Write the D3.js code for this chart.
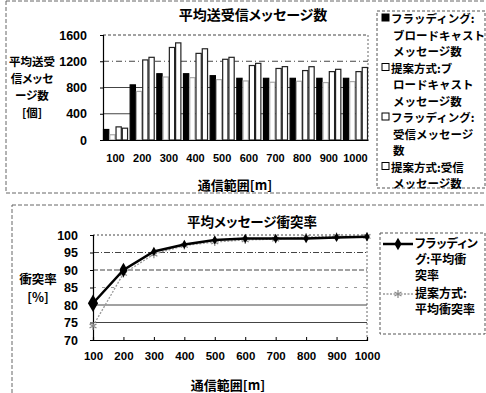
<!DOCTYPE html>
<html><head><meta charset="utf-8">
<script src="https://cdn.jsdelivr.net/npm/d3@7"></script>
<style>
body{margin:0;background:#fff;}
svg{display:block;}
.jp{font-family:"Noto Sans CJK JP","Noto Sans",sans-serif;font-weight:700;}
.palt{font-feature-settings:"palt";}
.num{font-family:"Liberation Sans",Arial,sans-serif;font-weight:700;}
</style></head>
<body>
<script>
// ---- data ----
const categories = ["100","200","300","400","500","600","700","800","900","1000"];
const floodBroadcast = [160, 840, 1010, 1010, 980, 940, 940, 940, 940, 940];
const propBroadcast  = [80, 740, 960, 950, 920, 900, 880, 895, 875, 890];
const floodReceive   = [200, 1220, 1410, 1320, 1230, 1135, 1090, 1058, 1042, 1042];
const propReceive    = [180, 1260, 1480, 1390, 1260, 1168, 1118, 1117, 1077, 1105];
const barTicks = [0, 400, 800, 1200, 1600];
const barSeriesNames = [
  ["フラッディング:","ブロードキャスト","メッセージ数"],
  ["提案方式:ブ","ロードキャスト","メッセージ数"],
  ["フラッディング:","受信メッセージ","数"],
  ["提案方式:受信","メッセージ数"]
];
const barYTitle = ["平均送受","信メッセ","ージ数","[個]"];
const floodCollision = [80.5, 90, 95.3, 97.3, 98.6, 99, 99, 99, 99.3, 99.5];
const propCollision  = [74, 89, 94.5, 97, 98, 98.6, 98.8, 99.4, 99.6, 99.6];
const lineTicks = [70, 75, 80, 85, 90, 95, 100];
const lineSeriesNames = [["フラッディン","グ:平均衝","突率"],["提案方式:","平均衝突率"]];
const lineYTitle = ["衝突率","[%]"];

const W = 486, H = 393;
const svg = d3.select("body").append("svg").attr("width", W).attr("height", H);

// wrapped multi-line title block centred at (cx, cy)
function blockTitle(g, lines, cx, cy, fs, step){
  const y0 = cy - (lines.length*step)/2 + step*0.78;
  lines.forEach((t,j)=>{
    g.append("text").attr("class","jp palt").attr("font-size",fs).attr("text-anchor","middle")
      .attr("x",cx).attr("y",y0+j*step).text(t);
  });
}

// ================= TOP CHART =================
const topG = svg.append("g");
topG.append("rect").attr("x",6).attr("y",1).attr("width",500).attr("height",192)
  .attr("fill","none").attr("stroke","#666").attr("stroke-dasharray","4,2");

const p1 = {l:103, r:368, t:35, b:140};
const x0 = d3.scaleBand().domain(categories).range([p1.l, p1.r]).paddingInner(0.06).paddingOuter(0.0);
const seriesKeys = [0,1,2,3];
const x1 = d3.scaleBand().domain(seriesKeys).range([0, x0.bandwidth()]).padding(0);
const y1 = d3.scaleLinear().domain([0,1600]).range([p1.b, p1.t]);

topG.selectAll(".g1").data(barTicks.filter(d=>d>0)).enter().append("line")
  .attr("x1",p1.l).attr("x2",p1.r).attr("y1",d=>y1(d)).attr("y2",d=>y1(d))
  .attr("stroke","#444").attr("stroke-width",1)
  .attr("stroke-dasharray",d=> d===1600 ? "3,2" : (d===1200 ? "6,3,1,3" : null));
topG.append("line").attr("x1",p1.r).attr("x2",p1.r).attr("y1",p1.t).attr("y2",p1.b)
  .attr("stroke","#666").attr("stroke-dasharray","2,2");

const barData = [floodBroadcast, propBroadcast, floodReceive, propReceive];
const fills = ["#000","#fff","#fff","#fff"];
const strokes = ["#000","#aaa","#222","#222"];
categories.forEach((c,i)=>{
  const g = topG.append("g").attr("transform",`translate(${x0(c)},0)`);
  g.selectAll("rect").data(seriesKeys).enter().append("rect")
    .attr("x",k=>x1(k)+0.5).attr("width",x1.bandwidth()-1)
    .attr("y",k=>y1(barData[k][i])).attr("height",k=>p1.b - y1(barData[k][i]))
    .attr("fill",k=>fills[k]).attr("stroke",k=>strokes[k]).attr("stroke-width",1.2);
});

const yAx1 = topG.append("g").attr("transform",`translate(${p1.l},0)`)
  .call(d3.axisLeft(y1).tickValues(barTicks).tickFormat(d3.format("d")).tickSize(3).tickPadding(13));
yAx1.select(".domain").attr("stroke","#000").attr("stroke-width",1.2);
yAx1.selectAll("text").attr("class","num").attr("font-size",12.5).attr("fill","#000");
const xAx1 = topG.append("g").attr("transform",`translate(0,${p1.b})`)
  .call(d3.axisBottom(x0).tickSize(0).tickPadding(14));
xAx1.select(".domain").attr("stroke","#000").attr("stroke-width",1.2);
xAx1.selectAll("text").attr("class","num").attr("font-size",11).attr("fill","#000");

topG.append("text").attr("class","jp palt").attr("x",253).attr("y",20).attr("text-anchor","middle")
  .attr("font-size",14).text("平均送受信メッセージ数");
topG.append("text").attr("class","jp palt").attr("x",235).attr("y",190).attr("text-anchor","middle")
  .attr("font-size",13).text("通信範囲[m]");
blockTitle(topG, barYTitle, 32, 87, 11.5, 17);

topG.append("rect").attr("x",377).attr("y",11).attr("width",108).attr("height",177)
  .attr("fill","#fff").attr("stroke","#555").attr("stroke-dasharray","3,2");
let ly = 23;
barSeriesNames.forEach((lines,k)=>{
  topG.append("rect").attr("x",382).attr("y",ly-9).attr("width",7).attr("height",7)
    .attr("fill",fills[k]).attr("stroke","#000").attr("stroke-width",1);
  lines.forEach((t,j)=>{
    topG.append("text").attr("class","jp").attr("font-size",11.5)
      .attr("x", j===0 ? 391 : 393).attr("y",ly).text(t);
    ly += 16.5;
  });
});

// ================= BOTTOM CHART =================
const bot = svg.append("g");
bot.append("rect").attr("x",12).attr("y",205).attr("width",500).attr("height",200)
  .attr("fill","none").attr("stroke","#666").attr("stroke-dasharray","4,2");

const p2 = {l:93, r:367, t:235, b:340};
const xp = d3.scalePoint().domain(categories).range([p2.l, p2.r]);
const y2 = d3.scaleLinear().domain([70,100]).range([p2.b, p2.t]);

const gridStyle = {100:"2,2",95:"6,2,1,2",90:"5,2",85:"3,6",80:null,75:null};
bot.selectAll(".g2").data(lineTicks.filter(d=>d>70)).enter().append("line")
  .attr("x1",p2.l).attr("x2",p2.r).attr("y1",d=>y2(d)).attr("y2",d=>y2(d))
  .attr("stroke",d=>d===85?"#999":"#444").attr("stroke-width",1)
  .attr("stroke-dasharray",d=>gridStyle[d]);
bot.append("line").attr("x1",p2.r).attr("x2",p2.r).attr("y1",p2.t).attr("y2",p2.b)
  .attr("stroke","#666").attr("stroke-dasharray","2,2");

const yAx2 = bot.append("g").attr("transform",`translate(${p2.l},0)`)
  .call(d3.axisLeft(y2).tickValues(lineTicks).tickSize(3).tickPadding(12));
yAx2.select(".domain").attr("stroke","#000").attr("stroke-width",1.2);
yAx2.selectAll("text").attr("class","num").attr("font-size",12.5).attr("fill","#000");
const xAx2 = bot.append("g").attr("transform",`translate(0,${p2.b})`)
  .call(d3.axisBottom(xp).tickSize(-3).tickPadding(12));
xAx2.select(".domain").attr("stroke","#000").attr("stroke-width",1.2);
xAx2.selectAll("text").attr("class","num").attr("font-size",11.5).attr("fill","#000");

const lineGen = d3.line().x((d,i)=>xp(categories[i])).y(d=>y2(d));
bot.append("path").datum(propCollision).attr("d",lineGen).attr("fill","none")
  .attr("stroke","#999").attr("stroke-width",1.3).attr("stroke-dasharray","2,1.5");
bot.selectAll(".pm").data(propCollision).enter().append("path")
  .attr("transform",(d,i)=>`translate(${xp(categories[i])},${y2(d)})`)
  .attr("d",d3.symbol(d3.symbolAsterisk,45)).attr("fill","none").attr("stroke","#888").attr("stroke-width",1.2);
bot.append("path").datum(floodCollision).attr("d",lineGen).attr("fill","none")
  .attr("stroke","#000").attr("stroke-width",2.5);
bot.selectAll(".fm").data(floodCollision).enter().append("path")
  .attr("transform",(d,i)=>`translate(${xp(categories[i])},${y2(d)})`)
  .attr("d",(d,i)=>d3.symbol(d3.symbolDiamond, i===0?90:i===1?60:25)()).attr("fill","#000");

bot.append("text").attr("class","jp palt").attr("x",252).attr("y",227).attr("text-anchor","middle")
  .attr("font-size",13.5).text("平均メッセージ衝突率");
bot.append("text").attr("class","jp palt").attr("x",228).attr("y",390).attr("text-anchor","middle")
  .attr("font-size",13).text("通信範囲[m]");
blockTitle(bot, lineYTitle, 38, 288, 12.5, 18);

bot.append("rect").attr("x",380).attr("y",233).attr("width",105).attr("height",101)
  .attr("fill","#fff").attr("stroke","#555").attr("stroke-dasharray","3,2");
bot.append("line").attr("x1",383).attr("x2",413).attr("y1",244).attr("y2",244)
  .attr("stroke","#000").attr("stroke-width",2.5);
bot.append("path").attr("transform","translate(398,244)").attr("d",d3.symbol(d3.symbolDiamond,45)).attr("fill","#000");
bot.append("line").attr("x1",383).attr("x2",413).attr("y1",294).attr("y2",294)
  .attr("stroke","#999").attr("stroke-width",1.3).attr("stroke-dasharray","2,1.5");
bot.append("path").attr("transform","translate(398,294)").attr("d",d3.symbol(d3.symbolAsterisk,45))
  .attr("fill","none").attr("stroke","#888").attr("stroke-width",1.2);
const legStart = [248, 298];
lineSeriesNames.forEach((lines,k)=>{
  lines.forEach((t,j)=>{
    bot.append("text").attr("class","jp palt").attr("font-size",12)
      .attr("x", 415).attr("y",legStart[k]+j*16).text(t);
  });
});
</script>
</body></html>
